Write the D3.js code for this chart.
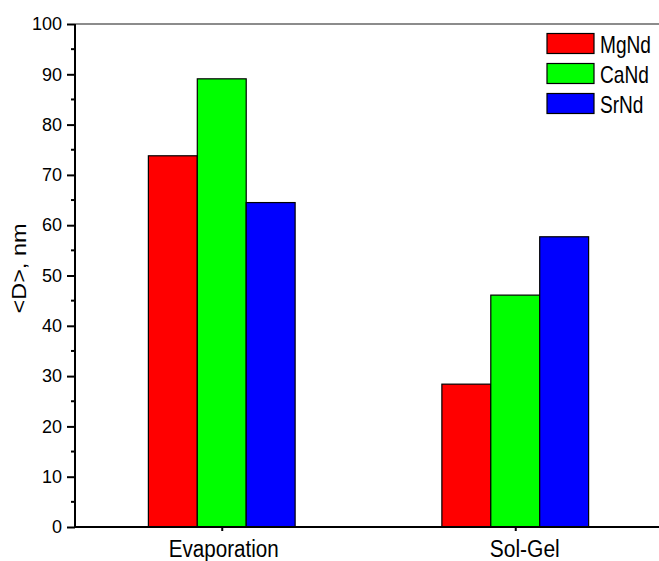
<!DOCTYPE html>
<html><head><meta charset="utf-8">
<script src="https://cdn.jsdelivr.net/npm/d3@7"></script>
<style>body{margin:0;background:#fff}svg{display:block}text{font-family:Arial,"Liberation Sans",sans-serif}</style>
</head><body><svg id="c" width="659" height="561"></svg>
<script>
const categories = ["Evaporation", "Sol-Gel"];
const seriesNames = ["MgNd", "CaNd", "SrNd"];
const MgNd = [73.8, 28.4];
const CaNd = [89.1, 46.1];
const SrNd = [64.5, 57.7];
const yTicks = [0,10,20,30,40,50,60,70,80,90,100];
const colors = ["#ff0000", "#00ff00", "#0000ff"];
const series = [MgNd, CaNd, SrNd];

const svg = d3.select("#c");
const x = d3.scaleLinear().domain([0.5, 2.5]).range([75, 662]);
const y = d3.scaleLinear().domain([0, 100]).range([527, 24]);
const bw = 1/6;

// top frame
svg.append("line").attr("x1",75).attr("x2",662).attr("y1",y(100)).attr("y2",y(100)).attr("stroke","#666").attr("stroke-width",1.5);

// bars
series.forEach((s, si) => {
  svg.append("g").selectAll("rect").data(s).join("rect")
    .attr("x", (d,i) => x(i+1 - 1.5*bw + si*bw))
    .attr("width", x(bw) - x(0))
    .attr("y", d => y(d))
    .attr("height", d => y(0) - y(d))
    .attr("fill", colors[si]).attr("stroke", "#000").attr("stroke-width", 1.2);
});

// y axis
const yAx = svg.append("g").attr("transform","translate(75,0)")
  .call(d3.axisLeft(y).tickValues(yTicks).tickSize(8).tickPadding(5));
yAx.attr("font-size", null).attr("font-family", null);
yAx.select(".domain").attr("stroke-width",2).attr("d","M0,"+y(100)+"V"+y(0));
yAx.selectAll(".tick line").attr("stroke-width",2);
yAx.selectAll("text").style("font-size","18px").attr("fill","#000");
const minor = d3.range(5,100,10);
yAx.selectAll(".mn").data(minor).join("line").attr("x1",-4).attr("x2",0)
  .attr("y1",d=>y(d)).attr("y2",d=>y(d)).attr("stroke","#000").attr("stroke-width",2);

// x axis
const xAx = svg.append("g").attr("transform","translate(0,"+y(0)+")")
  .call(d3.axisBottom(x).tickValues([1,2]).tickFormat(d=>categories[d-1]).tickSize(4).tickPadding(0));
xAx.attr("font-size", null).attr("font-family", null);
xAx.select(".domain").attr("stroke-width",2).attr("d","M75,0H662");
xAx.selectAll(".tick line").attr("stroke-width",2);
const xLen = [110, 70];
const xShift = [1.5, 9];
xAx.selectAll(".tick text").attr("dy", null).attr("y", 29.5)
  .attr("x", (d,i) => xShift[i])
  .style("font-size","23px").attr("fill","#000")
  .attr("textLength", (d,i) => xLen[i]).attr("lengthAdjust","spacingAndGlyphs");

// y label
svg.append("text").attr("transform","translate(26,"+268.5+") rotate(-90)")
  .attr("text-anchor","middle").style("font-size","21px")
  .attr("textLength", 90).attr("lengthAdjust","spacingAndGlyphs").text("<D>, nm");

// legend
const lg = svg.append("g");
seriesNames.forEach((n,i) => {
  lg.append("rect").attr("x",547).attr("y",33.5+i*30).attr("width",47).attr("height",20)
    .attr("fill",colors[i]).attr("stroke","#000").attr("stroke-width",1.2);
  lg.append("text").attr("transform","translate(600,"+(53.3+i*30)+") scale(0.83,1)")
    .style("font-size","23px").text(n);
});
</script></body></html>
